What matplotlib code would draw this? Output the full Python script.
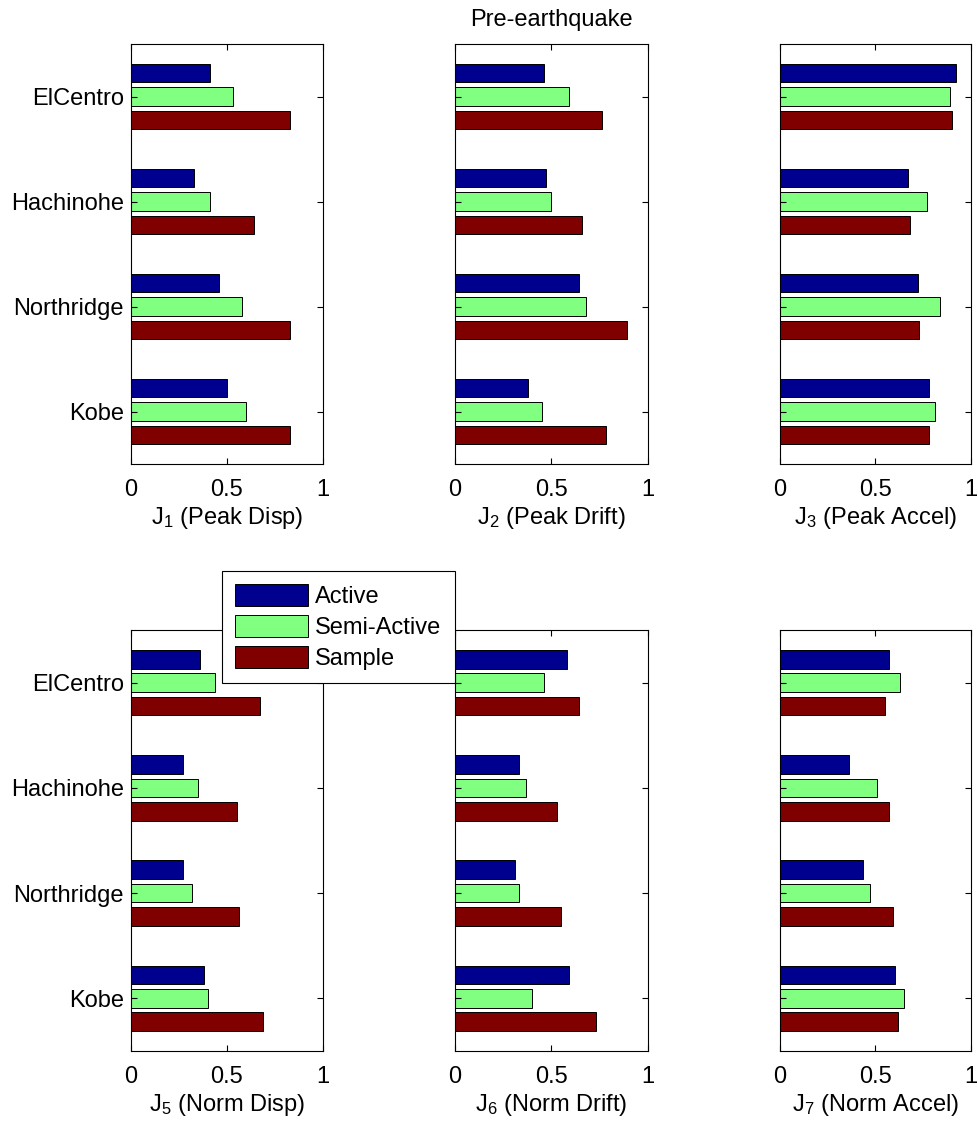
import numpy as np
import matplotlib.pyplot as plt
from matplotlib.patches import Patch

plt.rcParams['font.family'] = ['Liberation Sans', 'DejaVu Sans']
plt.rcParams['mathtext.default'] = 'regular'

quakes = ['ElCentro', 'Hachinohe', 'Northridge', 'Kobe']
series = ['Active', 'Semi-Active', 'Sample']
colors = [(0, 0, 0.56), (0.5, 1, 0.5), (0.5, 0, 0)]

# criteria values per earthquake: [Active, Semi-Active, Sample]
J1 = [[0.41, 0.53, 0.83], [0.33, 0.41, 0.64], [0.46, 0.58, 0.83], [0.50, 0.60, 0.83]]
J2 = [[0.46, 0.59, 0.76], [0.47, 0.50, 0.66], [0.64, 0.68, 0.89], [0.38, 0.45, 0.78]]
J3 = [[0.92, 0.89, 0.90], [0.67, 0.77, 0.68], [0.72, 0.84, 0.73], [0.78, 0.81, 0.78]]
J5 = [[0.36, 0.44, 0.67], [0.27, 0.35, 0.55], [0.27, 0.32, 0.56], [0.38, 0.40, 0.69]]
J6 = [[0.58, 0.46, 0.64], [0.33, 0.37, 0.53], [0.31, 0.33, 0.55], [0.59, 0.40, 0.73]]
J7 = [[0.57, 0.63, 0.55], [0.36, 0.51, 0.57], [0.435, 0.47, 0.59], [0.60, 0.65, 0.62]]

panels = [
    (J1, r'$J_1$ (Peak Disp)'), (J2, r'$J_2$ (Peak Drift)'), (J3, r'$J_3$ (Peak Accel)'),
    (J5, r'$J_5$ (Norm Disp)'), (J6, r'$J_6$ (Norm Drift)'), (J7, r'$J_7$ (Norm Accel)'),
]

W, H = 979, 1127
fig = plt.figure(figsize=(W / 100, H / 100), dpi=100)

lefts = [131, 455, 780]
widths = [192, 193, 191]
tops = [44, 630]
heights = [420, 421]

gw = 3 / 4.5  # group width as in matlab barh
step = gw / 3
bh = step * 0.8

fs = 17
for k, (data, label) in enumerate(panels):
    r, c = divmod(k, 3)
    ax = fig.add_axes([lefts[c] / W, 1 - (tops[r] + heights[r]) / H,
                       widths[c] / W, heights[r] / H])
    data = np.array(data)
    y = np.arange(1, 5)
    for s in range(3):
        ax.barh(y + (s - 1) * step, data[:, s], height=bh, color=colors[s],
                edgecolor='black', linewidth=0.7, label=series[s])
    ax.set_xlim(0, 1)
    ax.set_ylim(4.5, 0.5)
    ax.set_xticks([0, 0.5, 1])
    ax.set_xticklabels(['0', '0.5', '1'])
    ax.set_yticks(y)
    if c == 0:
        ax.set_yticklabels(quakes)
    else:
        ax.set_yticklabels([])
    ax.tick_params(direction='in', top=True, right=True, length=4, width=0.8,
                   labelsize=fs)
    ax.tick_params(axis='x', pad=11)
    ax.tick_params(axis='y', pad=5)
    ax.set_xlabel(label, fontsize=fs, labelpad=3)
    for sp in ax.spines.values():
        sp.set_linewidth(0.8)
    if k == 1:
        ax.set_title('Pre-earthquake', fontsize=fs, pad=13)

handles = [Patch(facecolor=colors[s], edgecolor='black', linewidth=0.7) for s in range(3)]
leg = fig.legend(handles, series, loc='upper left',
                 bbox_to_anchor=(222 / W, 1 - 571 / H), borderaxespad=0,
                 fontsize=fs, fancybox=False, framealpha=1, edgecolor='black',
                 handlelength=3.1, handleheight=1.05, labelspacing=0.3,
                 handletextpad=0.3, borderpad=0.55)
leg.get_frame().set_linewidth(0.8)

fig.savefig('out.png', dpi=100)
